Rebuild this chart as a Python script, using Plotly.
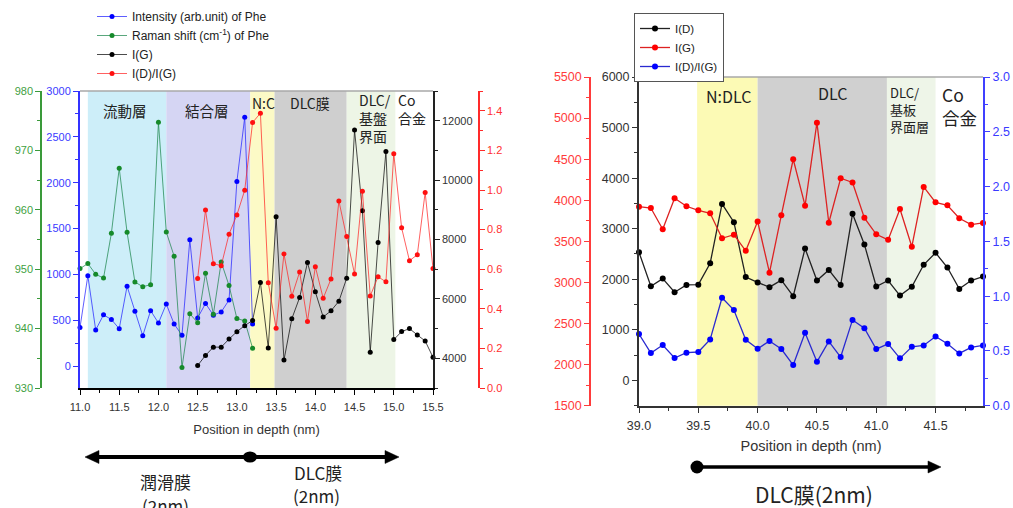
import plotly.graph_objects as go

W, H = 1013, 508

def px(x):
    return x / W

def py(y):
    return 1 - y / H

# ---------------- Left chart data ----------------
depth_phe = [11.0, 11.1, 11.2, 11.3, 11.4, 11.5, 11.6, 11.7, 11.8, 11.9, 12.0, 12.1,
             12.2, 12.3, 12.4, 12.5, 12.6, 12.7, 12.8, 12.9, 13.0, 13.1, 13.2]
intensity_phe = [420, 985, 393, 558, 507, 407, 870, 596, 330, 604, 469, 676,
                 458, 336, 1376, 525, 682, 555, 589, 720, 2012, 2713, 458]
raman_shift_phe = [950.1, 950.95, 949.15, 948.5, 956.05, 967.0, 956.2, 947.85, 947.05, 947.4,
                   974.75, 956.25, 952.2, 933.45, 942.5, 941.0, 949.3, 942.4, 951.2, 947.25,
                   941.7, 941.3, 936.7]

depth_left = [12.5, 12.6, 12.7, 12.8, 12.9, 13.0, 13.1, 13.2, 13.3, 13.4, 13.5, 13.6,
              13.7, 13.8, 13.9, 14.0, 14.1, 14.2, 14.3, 14.4, 14.5, 14.6, 14.7, 14.8,
              14.9, 15.0, 15.1, 15.2, 15.3, 15.4, 15.5]
ig_left = [3760, 4097, 4376, 4376, 4646, 4898, 5100, 5274, 6555, 4350, 8765, 3940,
           5330, 6047, 7224, 6237, 5390, 5600, 5920, 6697, 11685, 8966, 4202, 7899,
           10966, 4629, 4899, 5000, 4787, 4584, 4034]
ratio_left = [0.553, 0.899, 0.628, 0.618, 0.777, 0.874, 0.999, 1.341, 1.388, 0.532, 0.302,
              0.677, 0.463, 0.586, 0.336, 0.613, 0.453, 0.551, 0.945, 0.765, 0.576, 0.994,
              0.465, 0.562, 0.536, 1.183, 0.809, 0.643, 0.673, 0.988, 0.603]

# layer bands of the left chart: (start, end, colour)
bands_left = [(11.1, 12.1, "#cdeef9"), (12.1, 13.17, "#d5d5f3"), (13.17, 13.48, "#fcfac6"),
              (13.48, 14.4, "#cfcfcf"), (14.4, 15.02, "#edf5e6")]

# ---------------- Right chart data ----------------
depth_right = [39.0, 39.1, 39.2, 39.3, 39.4, 39.5, 39.6, 39.7, 39.8, 39.9, 40.0, 40.1,
               40.2, 40.3, 40.4, 40.5, 40.6, 40.7, 40.8, 40.9, 41.0, 41.1, 41.2, 41.3,
               41.4, 41.5, 41.6, 41.7, 41.8, 41.9]
id_right = [2534, 1861, 2013, 1743, 1888, 1894, 2317, 3491, 3128, 2044, 1938, 1844,
            1982, 1665, 2610, 1975, 2184, 1887, 3295, 2689, 1857, 1975, 1678, 1850,
            2286, 2524, 2233, 1810, 1975, 2054]
ig_right = [3922, 3906, 3647, 4024, 3927, 3878, 3842, 3537, 3581, 3385, 3742, 3119,
            3819, 4499, 3934, 4944, 3726, 4268, 4216, 3786, 3586, 3518, 3894, 3435,
            4162, 3975, 3939, 3781, 3703, 3724]
ratio_right = [0.654, 0.481, 0.554, 0.435, 0.484, 0.490, 0.605, 0.985, 0.873, 0.602, 0.520,
               0.590, 0.517, 0.371, 0.665, 0.400, 0.587, 0.444, 0.783, 0.708, 0.517, 0.564,
               0.432, 0.538, 0.550, 0.632, 0.565, 0.477, 0.532, 0.550]

bands_right = [(39.49, 40.0, "#fcfab5"), (40.0, 41.09, "#d0d0d0"), (41.09, 41.5, "#eef5e8")]

LAT = "Liberation Sans, Arial, sans-serif"
CJK = "Noto Sans CJK JP, sans-serif"

# plot areas (pixels)
L_X0, L_X1, L_Y0, L_Y1 = 80, 433, 91, 388
R_X0, R_X1, R_Y0, R_Y1 = 639, 983, 77, 405.7

fig = go.Figure()

def sc(x, y, name, lc, mc, xa, ya, lg, lw=1, ms=5):
    return go.Scatter(x=x, y=y, name=name, mode="lines+markers",
                      line=dict(color=lc, width=lw), marker=dict(color=mc, size=ms),
                      xaxis=xa, yaxis=ya, legend=lg, cliponaxis=False)

fig.add_trace(sc(depth_phe, intensity_phe, "Intensity (arb.unit) of Phe",
                 "rgba(40,40,255,0.75)", "#0000ff", "x", "y", "legend"))
fig.add_trace(sc(depth_phe, raman_shift_phe, "Raman shift (cm<sup>-1</sup>) of Phe",
                 "rgba(20,130,70,0.7)", "#168a2a", "x", "y2", "legend"))
fig.add_trace(sc(depth_left, ig_left, "I(G)",
                 "rgba(0,0,0,0.7)", "#000000", "x", "y3", "legend"))
fig.add_trace(sc(depth_left, ratio_left, "I(D)/I(G)",
                 "rgba(255,30,30,0.7)", "#ff1010", "x", "y4", "legend"))

fig.add_trace(sc(depth_right, id_right, "I(D)", "#222222", "#000000", "x2", "y5", "legend2", 1.3, 6))
fig.add_trace(sc(depth_right, ig_right, "I(G)", "#dd2222", "#ff0000", "x2", "y6", "legend2", 1.3, 6))
fig.add_trace(sc(depth_right, ratio_right, "I(D)/I(G)", "#2a2ad0", "#0000ff", "x2", "y7", "legend2", 1.3, 6))

shapes = []
for a, b, c in bands_left:
    shapes.append(dict(type="rect", xref="x", yref="paper", x0=a, x1=b, y0=py(L_Y1), y1=py(L_Y0),
                       fillcolor=c, line=dict(width=0), layer="below"))
for a, b, c in bands_right:
    shapes.append(dict(type="rect", xref="x2", yref="paper", x0=a, x1=b, y0=py(R_Y1), y1=py(R_Y0),
                       fillcolor=c, line=dict(width=0), layer="below"))
# grey top frame lines
shapes.append(dict(type="line", xref="paper", yref="paper", x0=px(L_X0), x1=px(L_X1),
                   y0=py(L_Y0), y1=py(L_Y0), line=dict(color="#a8a8a8", width=1.5)))
shapes.append(dict(type="line", xref="paper", yref="paper", x0=px(R_X0), x1=px(R_X1),
                   y0=py(R_Y0), y1=py(R_Y0), line=dict(color="#a8a8a8", width=1.5)))


def hline(x0, x1, y, w):
    shapes.append(dict(type="line", xref="paper", yref="paper", x0=px(x0), x1=px(x1),
                       y0=py(y), y1=py(y), line=dict(color="black", width=w)))


def head(tip, y, length, half):
    b = tip - length
    path = "M {:.5f},{:.5f} L {:.5f},{:.5f} L {:.5f},{:.5f} Z".format(
        px(tip), py(y), px(b), py(y - half), px(b), py(y + half))
    shapes.append(dict(type="path", xref="paper", yref="paper", path=path,
                       fillcolor="black", line=dict(color="black", width=0.5)))


def dot(cx, cy, rx, ry):
    shapes.append(dict(type="circle", xref="paper", yref="paper", x0=px(cx - rx), x1=px(cx + rx),
                       y0=py(cy + ry), y1=py(cy - ry), fillcolor="black", line=dict(width=0)))

# left double arrow
hline(96, 388, 457, 4)
head(85, 457, -14, 6.5)
head(399, 457, 14, 6.5)
dot(250, 457, 7, 5.5)
# right arrow
hline(697, 930, 467, 3.5)
head(941, 467, 13, 6)
dot(697, 467, 6.5, 6.5)

ann = []

def txt(t, x, y, size, color="#222222", family=CJK, xanchor="center", align="center"):
    ann.append(dict(text=t, x=px(x), y=py(y), xref="paper", yref="paper", showarrow=False,
                    font=dict(size=size, color=color, family=family), xanchor=xanchor,
                    yanchor="middle", align=align))

# left region labels
txt("流動層", 125, 110, 14.5)
txt("結合層", 207, 110, 14.5)
txt("N:C", 263, 103, 14)
txt("DLC膜", 310, 103, 14)
txt("DLC/<br>基盤<br>界面", 357, 118, 14, xanchor="left", align="left")
txt("Co<br>合金", 396, 109, 14, xanchor="left", align="left")
# right region labels
txt("N:DLC", 728, 96, 16)
txt("DLC", 832, 93, 16)
txt("DLC/<br>基板<br>界面層", 888, 109, 13, xanchor="left", align="left")
txt("Co<br>合金", 940, 106, 17.5, xanchor="left", align="left")
# bottom texts
txt("潤滑膜", 165, 481, 17)
txt("(2nm)", 165, 505, 17)
txt("DLC膜", 318, 472, 17)
txt("(2nm)", 316, 495, 17)
txt("DLC膜(2nm)", 814, 494, 21)


def yax(color, rng, dtick, minor, fmt="d", **kw):
    d = dict(range=rng, dtick=dtick, tick0=0, showgrid=False, zeroline=False,
             showline=True, linecolor=color, linewidth=1.6, ticks="outside", ticklen=5,
             tickcolor=color, tickwidth=1.2, tickformat=fmt,
             minor=dict(dtick=minor, ticks="outside", ticklen=3, tickcolor=color, showgrid=False),
             tickfont=dict(family=LAT, size=kw.pop("fs", 11), color=kw.pop("fc", color)))
    d.update(kw)
    return d

fig.update_layout(
    width=W, height=H, margin=dict(l=0, r=0, t=0, b=0, autoexpand=False),
    paper_bgcolor="white", plot_bgcolor="white",
    xaxis=dict(domain=[px(L_X0), px(L_X1)], range=[11.0, 15.5], anchor="y",
               dtick=0.5, tick0=11, tickformat=".1f", showgrid=False, zeroline=False,
               showline=True, linecolor="black", linewidth=1.5, ticks="outside", ticklen=5,
               tickcolor="black", minor=dict(dtick=0.25, ticks="outside", ticklen=3, tickcolor="black"),
               tickfont=dict(family=LAT, size=11, color="#333333"), ticklabelstandoff=3,
               title=dict(text="Position in depth (nm)", font=dict(family=LAT, size=13, color="#333333"),
                          standoff=13)),
    yaxis=yax("#3232ff", [-240, 3000], 500, 250, domain=[py(L_Y1), py(L_Y0)], anchor="x",
              side="left", fc="#3a3aff", linewidth=2),
    yaxis2=yax("#3a9a3a", [930, 980], 10, 5, overlaying="y", anchor="free", position=px(41),
               side="left", fc="#3f9f3f"),
    yaxis3=yax("#222222", [3000, 13000], 2000, 1000, overlaying="y", anchor="x", side="right",
               fc="#333333"),
    yaxis4=yax("#ff2a2a", [0, 1.5], 0.2, 0.1, fmt=".1f", overlaying="y", anchor="free",
               position=px(479), side="right", fc="#ff3030"),
    xaxis2=dict(domain=[px(R_X0), px(R_X1)], range=[39.0, 41.9], anchor="y5",
                dtick=0.5, tick0=39, tickformat=".1f", showgrid=False, zeroline=False,
                showline=True, linecolor="#333333", linewidth=1.6, ticks="outside", ticklen=5,
                tickcolor="#333333", minor=dict(dtick=0.25, ticks="outside", ticklen=3, tickcolor="#333333"),
                tickfont=dict(family=LAT, size=12.5, color="#333333"), ticklabelstandoff=2,
                title=dict(text="Position in depth (nm)", font=dict(family=LAT, size=14.5, color="#333333"),
                           standoff=9)),
    yaxis5=yax("#333333", [-500, 6000], 1000, 500, domain=[py(R_Y1), py(R_Y0)], anchor="x2",
               side="left", fs=12.5, fc="#333333", linewidth=2),
    yaxis6=yax("#ff3b3b", [1500, 5500], 500, 250, overlaying="y5", anchor="free",
               position=px(590), side="left", fs=12.5, fc="#ff3b3b"),
    yaxis7=yax("#4040ff", [0, 3], 0.5, 0.25, fmt=".1f", overlaying="y5", anchor="x2",
               side="right", fs=12.5, fc="#3a3aff", linewidth=2),
    legend=dict(x=px(92), y=py(2), xanchor="left", yanchor="top", bgcolor="rgba(0,0,0,0)",
                borderwidth=0, font=dict(family=LAT, size=12, color="#222222"), tracegroupgap=0),
    legend2=dict(x=px(634), y=py(13), xanchor="left", yanchor="top", bgcolor="white",
                 bordercolor="#555555", borderwidth=1, font=dict(family=LAT, size=11.5, color="#222222"),
                 tracegroupgap=0),
    shapes=shapes, annotations=ann, showlegend=True,
)

fig.write_html("out.html")
